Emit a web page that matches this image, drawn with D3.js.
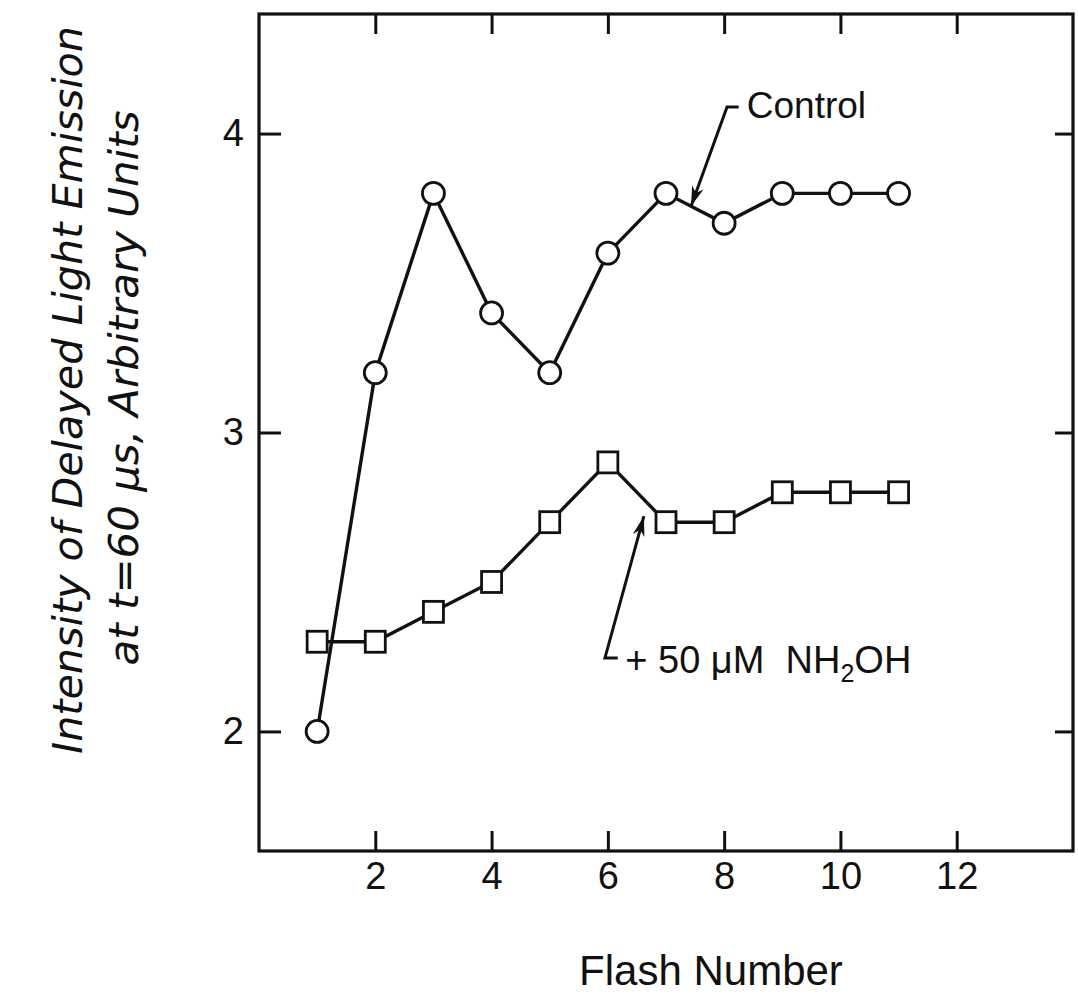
<!DOCTYPE html>
<html><head><meta charset="utf-8">
<script src="https://cdn.jsdelivr.net/npm/d3@7"></script>
<style>body{margin:0;background:#fff}</style>
</head><body>
<svg id="c" width="1078" height="996"></svg>
<script>
// ---- data ----
const flashes = [1,2,3,4,5,6,7,8,9,10,11];
const control = [2.0,3.2,3.8,3.4,3.2,3.6,3.8,3.7,3.8,3.8,3.8];
const nh2oh   = [2.3,2.3,2.4,2.5,2.7,2.9,2.7,2.7,2.8,2.8,2.8];
const xTicks = [2,4,6,8,10,12];
const yTicks = [2,3,4];
const xTitle = "Flash Number";
const yTitle1 = "Intensity of Delayed Light Emission";
const yTitle2 = "at t=60 \u03bcs, Arbitrary Units";

const svg = d3.select("#c");
const x = d3.scaleLinear().domain([0,14]).range([259,1073]);
const y = d3.scaleLinear().domain([1.6,4.4]).range([851,14]);

const ink = "#111";
const tickFont = "'Liberation Sans', Arial, sans-serif";

// frame
svg.append("rect").attr("x",x(0)).attr("y",y(4.4))
  .attr("width",x(14)-x(0)).attr("height",y(1.6)-y(4.4))
  .attr("fill","none").attr("stroke",ink).attr("stroke-width",3.2);

function styleAxis(g){
  g.select(".domain").remove();
  g.selectAll(".tick line").attr("stroke",ink).attr("stroke-width",3);
  g.selectAll(".tick text").attr("fill",ink).style("font-family",tickFont).style("font-size","38px");
}
svg.append("g").attr("transform",`translate(0,${y(1.6)})`)
  .call(d3.axisBottom(x).tickValues(xTicks).tickSize(-20).tickPadding(11).tickFormat(d3.format("d")))
  .call(styleAxis);
svg.append("g").attr("transform",`translate(0,${y(4.4)})`)
  .call(d3.axisTop(x).tickValues(xTicks).tickSize(-20).tickFormat(""))
  .call(styleAxis);
svg.append("g").attr("transform",`translate(${x(0)},0)`)
  .call(d3.axisLeft(y).tickValues(yTicks).tickSize(-22).tickPadding(15).tickFormat(d3.format("d")))
  .call(styleAxis);
svg.append("g").attr("transform",`translate(${x(14)},0)`)
  .call(d3.axisRight(y).tickValues(yTicks).tickSize(-18).tickFormat(""))
  .call(styleAxis);

// lines
const line = d3.line().x(d=>x(d[0])).y(d=>y(d[1]));
const ctrlPts = flashes.map((f,i)=>[f,control[i]]);
const nhPts = flashes.map((f,i)=>[f,nh2oh[i]]);
svg.append("path").datum(ctrlPts).attr("d",line).attr("fill","none").attr("stroke",ink).attr("stroke-width",3.4);
svg.append("path").datum(nhPts).attr("d",line).attr("fill","none").attr("stroke",ink).attr("stroke-width",3.4);

// markers
svg.selectAll("circle.m").data(ctrlPts).join("circle").attr("class","m")
  .attr("cx",d=>x(d[0])).attr("cy",d=>y(d[1])).attr("r",11)
  .attr("fill","#fff").attr("stroke",ink).attr("stroke-width",2.8);
svg.selectAll("rect.m").data(nhPts).join("rect").attr("class","m")
  .attr("x",d=>x(d[0])-10).attr("y",d=>y(d[1])-10.5).attr("width",20).attr("height",21)
  .attr("fill","#fff").attr("stroke",ink).attr("stroke-width",2.8);

// arrowhead
svg.append("defs").append("marker").attr("id","ah").attr("viewBox","-22 -8 24 16")
  .attr("refX",0).attr("refY",0).attr("markerWidth",24).attr("markerHeight",16)
  .attr("markerUnits","userSpaceOnUse").attr("orient","auto")
  .append("path").attr("d","M0,0 L-20,-6 L-14,0 L-20,6 Z").attr("fill",ink);

// Control annotation
const cCorner = [8.05,4.089], cHook = [8.25,4.089], cTip = [7.43,3.757], cText = [8.39,4.052];
svg.append("path").attr("d",`M${x(cHook[0])},${y(cHook[1])} L${x(cCorner[0])},${y(cCorner[1])} L${x(cTip[0])},${y(cTip[1])}`)
  .attr("fill","none").attr("stroke",ink).attr("stroke-width",3).attr("marker-end","url(#ah)");
svg.append("text").attr("x",x(cText[0])).attr("y",y(cText[1])).text("Control")
  .attr("fill",ink).style("font-family",tickFont).style("font-size","37px");

// NH2OH annotation
const nHook = [6.17,2.246], nCorner = [5.95,2.246], nTip = [6.62,2.72], nText = [6.3,2.196];
svg.append("path").attr("d",`M${x(nHook[0])},${y(nHook[1])} L${x(nCorner[0])},${y(nCorner[1])} L${x(nTip[0])},${y(nTip[1])}`)
  .attr("fill","none").attr("stroke",ink).attr("stroke-width",3).attr("marker-end","url(#ah)");
const nt = svg.append("text").attr("x",x(nText[0])).attr("y",y(nText[1]))
  .attr("fill",ink).style("font-family",tickFont).style("font-size","38px").attr("xml:space","preserve");
nt.append("tspan").text("+ 50 \u03bcM  NH");
nt.append("tspan").attr("dy",9).style("font-size","25px").text("2");
nt.append("tspan").attr("dy",-9).text("OH");

// axis titles
svg.append("text").attr("x",(x(0)+x(14))/2+45).attr("y",985).attr("text-anchor","middle")
  .text(xTitle).attr("fill",ink).style("font-family",tickFont).style("font-size","42px");
const yFont = "'DejaVu Sans Condensed', 'DejaVu Sans', sans-serif";
svg.append("text").attr("transform","translate(82,390) rotate(-90)").attr("text-anchor","middle")
  .attr("textLength",728).attr("lengthAdjust","spacingAndGlyphs")
  .text(yTitle1).attr("fill",ink).style("font-family",yFont).style("font-style","italic").style("font-size","40px");
svg.append("text").attr("transform","translate(138,388) rotate(-90)").attr("text-anchor","middle")
  .attr("textLength",555).attr("lengthAdjust","spacingAndGlyphs")
  .text(yTitle2).attr("fill",ink).style("font-family",yFont).style("font-style","italic").style("font-size","40px");
</script>
</body></html>
